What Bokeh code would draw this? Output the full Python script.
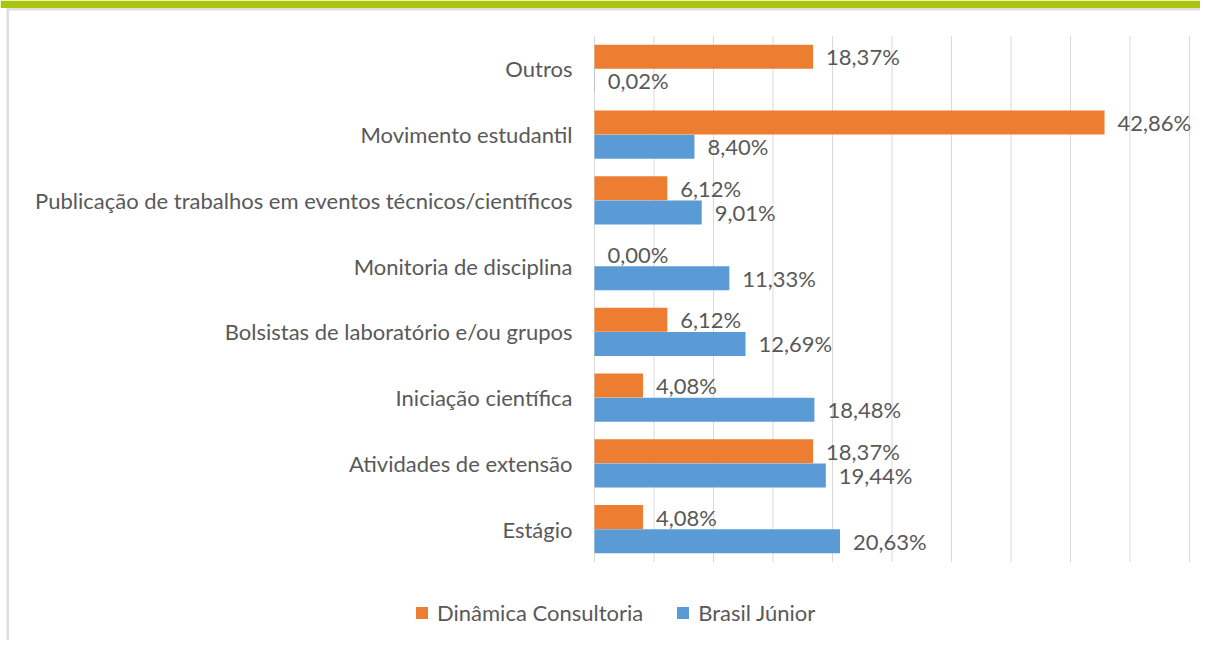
from bokeh.plotting import figure
from bokeh.models import Range1d, ColumnDataSource, Legend, LegendItem
from bokeh.core.properties import value
from bokeh.embed import file_html
from bokeh.resources import INLINE

categories = ["Outros", "Movimento estudantil", "Publicação de trabalhos em eventos técnicos/científicos",
              "Monitoria de disciplina", "Bolsistas de laboratório e/ou grupos", "Iniciação científica",
              "Atividades de extensão", "Estágio"]
dinamica = [18.37, 42.86, 6.12, 0.00, 6.12, 4.08, 18.37, 4.08]
brasil_jr = [0.02, 8.40, 9.01, 11.33, 12.69, 18.48, 19.44, 20.63]
series_names = ["Dinâmica Consultoria", "Brasil Júnior"]
grid_ticks = list(range(0, 51, 5))

def fmt(v):
    return f"{v:.2f}".replace(".", ",") + "%"

FONT = value("Lato")
FS = "22px"
TXT = "#595959"
ORANGE = "#ED7D31"
BLUE = "#5B9BD5"

W, H = 1200, 640
PX_X = 11.9          # pixels per percent
ZERO_X = 594         # pixel position of 0 %
SLOT = 65.75         # pixels per category
TOP_PX = 35.5        # pixel position of the top of the plotting area
n = len(categories)

x_start = -ZERO_X / PX_X
x_end = x_start + W / PX_X
y_end = n + TOP_PX / SLOT
y_start = y_end - H / SLOT

def px_to_y(py):
    return y_end - py / SLOT

def px_to_x(px):
    return x_start + px / PX_X

ypos = [n - i - 0.5 for i in range(n)]
off = 0.183
bh = 0.365

src = ColumnDataSource(dict(
    cat=categories, y=ypos,
    yd=[y + off for y in ypos], yb=[y - off for y in ypos],
    d=dinamica, b=brasil_jr,
    dl=[fmt(v) for v in dinamica], bl=[fmt(v) for v in brasil_jr],
))

p = figure(width=W, height=H, output_backend="svg", toolbar_location=None,
           x_range=Range1d(x_start, x_end), y_range=Range1d(y_start, y_end),
           min_border=0)
p.outline_line_color = None
p.axis.visible = False
p.grid.visible = False

# decorations (slide frame)
p.quad(left=x_start, right=x_end, top=y_end, bottom=px_to_y(7.5), fill_color="#a9c40a", line_color=None)
p.quad(left=px_to_x(6), right=x_end, top=px_to_y(7.5), bottom=px_to_y(10), fill_color="#dedede", line_color=None)
p.quad(left=px_to_x(6), right=px_to_x(8.5), top=px_to_y(7.5), bottom=y_start, fill_color="#dedede", line_color=None)

# gridlines
p.segment(x0=grid_ticks, x1=grid_ticks, y0=[0] * len(grid_ticks), y1=[n] * len(grid_ticks),
          line_color="#d9d9d9", line_width=1)

r1 = p.hbar(y="yd", right="d", left=0, height=bh, source=src, fill_color=ORANGE, line_color=None)
r2 = p.hbar(y="yb", right="b", left=0, height=bh, source=src, fill_color=BLUE, line_color=None)

p.text(x="d", y="yd", text="dl", source=src, x_offset=13, text_baseline="middle", text_align="left",
       text_font=FONT, text_font_size=FS, text_color=TXT)
p.text(x="b", y="yb", text="bl", source=src, x_offset=13, text_baseline="middle", text_align="left",
       text_font=FONT, text_font_size=FS, text_color=TXT)

p.text(x=0, y="y", text="cat", source=src, x_offset=-22, text_baseline="middle", text_align="right",
       text_font=FONT, text_font_size=FS, text_color=TXT)

legend = Legend(items=[LegendItem(label=series_names[0], renderers=[r1]),
                       LegendItem(label=series_names[1], renderers=[r2])],
                orientation="horizontal", location=(414, 14),
                label_text_font="Lato", label_text_font_size=FS, label_text_color=TXT,
                glyph_width=15, glyph_height=15, label_standoff=8, spacing=32,
                padding=0, margin=0, border_line_color=None, background_fill_alpha=0)
p.add_layout(legend, "center")

open("out.html", "w").write(file_html(p, INLINE))
